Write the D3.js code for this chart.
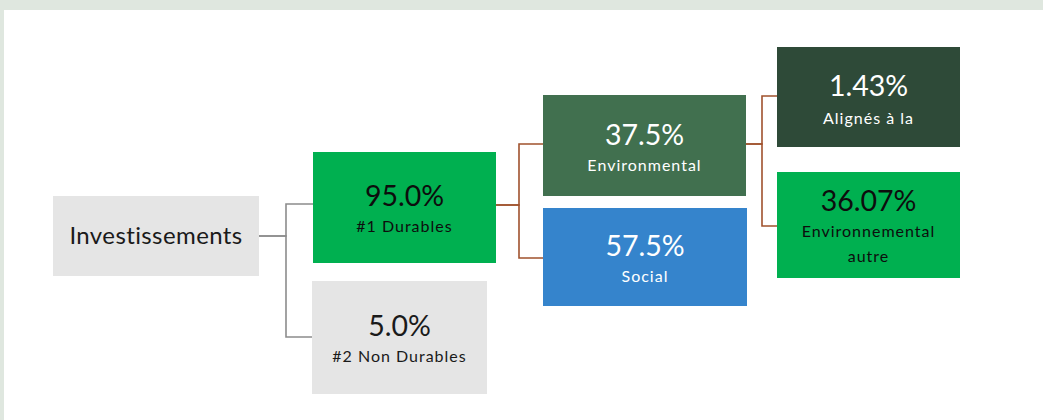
<!DOCTYPE html>
<html><head><meta charset="utf-8">
<script src="https://cdn.jsdelivr.net/npm/d3@7"></script>
<style>
html,body{margin:0;padding:0;background:#dfe7df;}
svg{display:block;}
</style></head>
<body>
<svg id="chart" width="1043" height="420"></svg>
<script>
// ---- data ----
const nodeIds = ["inv", "dur", "nondur", "env", "soc", "tax", "envAutre"];
const nodeValues = [null, 95.0, 5.0, 37.5, 57.5, 1.43, 36.07];
const valueLabels = ["", "95.0%", "5.0%", "37.5%", "57.5%", "1.43%", "36.07%"];
const nodeLabels = [["Investissements"], ["#1 Durables"], ["#2 Non Durables"], ["Environmental"], ["Social"], ["Alignés à la"], ["Environnemental", "autre"]];
const parents = [null, "inv", "inv", "dur", "dur", "env", "env"];

// ---- layout / style (kept apart from data) ----
const layout = {
  inv:      {x0: 53,  x1: 259, y0: 196, y1: 276, fill: "#e5e5e5", text: "#1a1a1a", link: "#8c8c8c", linkY: 236},
  dur:      {x0: 313, x1: 496, y0: 152, y1: 263, fill: "#00b050", text: "#0d0d0d", link: "#a0522d", linkY: 205, inY: 204, valY: 206, labY: 232},
  nondur:   {x0: 312, x1: 487, y0: 281, y1: 394, fill: "#e5e5e5", text: "#1a1a1a", inY: 337, valY: 336, labY: 362},
  env:      {x0: 543, x1: 746, y0: 95,  y1: 196, fill: "#41704f", text: "#ffffff", link: "#a0522d", linkY: 144, inY: 144, valY: 145, labY: 171},
  soc:      {x0: 543, x1: 747, y0: 208, y1: 306, fill: "#3584cc", text: "#ffffff", inY: 258, valY: 256, labY: 282},
  tax:      {x0: 777, x1: 960, y0: 47,  y1: 147, fill: "#2e4a38", text: "#ffffff", inY: 96, valY: 96, labY: 124},
  envAutre: {x0: 777, x1: 960, y0: 172, y1: 278, fill: "#00b050", text: "#0d0d0d", inY: 226, valY: 211, labY: 237}
};
const elbowX = {inv: 286, dur: 519, env: 762};

const nodes = nodeIds.map((id, i) => ({id, value: nodeValues[i], valueLabel: valueLabels[i], lines: nodeLabels[i], parent: parents[i], ...layout[id]}));

const svg = d3.select("#chart");
// white panel
svg.append("rect").attr("x", 4).attr("y", 10).attr("width", 1043 - 4).attr("height", 420 - 10).attr("fill", "#ffffff");

const font = "Lato, 'Open Sans', sans-serif";
const byId = new Map(nodes.map(d => [d.id, d]));

// links
const linkGen = d => {
  const p = byId.get(d.parent);
  const ex = elbowX[d.parent];
  const path = d3.path();
  path.moveTo(p.x1, p.linkY);
  path.lineTo(ex, p.linkY);
  path.lineTo(ex, d.inY);
  path.lineTo(d.x0, d.inY);
  return path.toString();
};
svg.append("g").selectAll("path").data(nodes.filter(d => d.parent)).join("path")
  .attr("d", linkGen)
  .attr("fill", "none")
  .attr("stroke", d => byId.get(d.parent).link)
  .attr("stroke-width", 1.6);

// boxes
const g = svg.append("g").selectAll("g").data(nodes).join("g");
g.append("rect")
  .attr("x", d => d.x0).attr("y", d => d.y0)
  .attr("width", d => d.x1 - d.x0).attr("height", d => d.y1 - d.y0)
  .attr("fill", d => d.fill);

// root label
g.filter(d => !d.parent).append("text")
  .attr("x", d => (d.x0 + d.x1) / 2).attr("y", 244)
  .attr("text-anchor", "middle")
  .attr("font-family", font).attr("font-size", 24)
  .attr("letter-spacing", 0.4)
  .attr("fill", d => d.text)
  .text(d => d.lines[0]);

const kids = g.filter(d => d.parent);
kids.append("text")
  .attr("x", d => (d.x0 + d.x1) / 2).attr("y", d => d.valY)
  .attr("text-anchor", "middle")
  .attr("font-family", font).attr("font-size", 28.5)
  .attr("fill", d => d.text)
  .text(d => d.valueLabel);
kids.each(function(d) {
  const t = d3.select(this);
  d.lines.forEach((line, i) => {
    t.append("text")
      .attr("x", (d.x0 + d.x1) / 2).attr("y", d.labY + i * 25)
      .attr("text-anchor", "middle")
      .attr("font-family", font).attr("font-size", 16)
      .attr("letter-spacing", 1.0)
      .attr("fill", d.text)
      .text(line);
  });
});
</script>
</body></html>
